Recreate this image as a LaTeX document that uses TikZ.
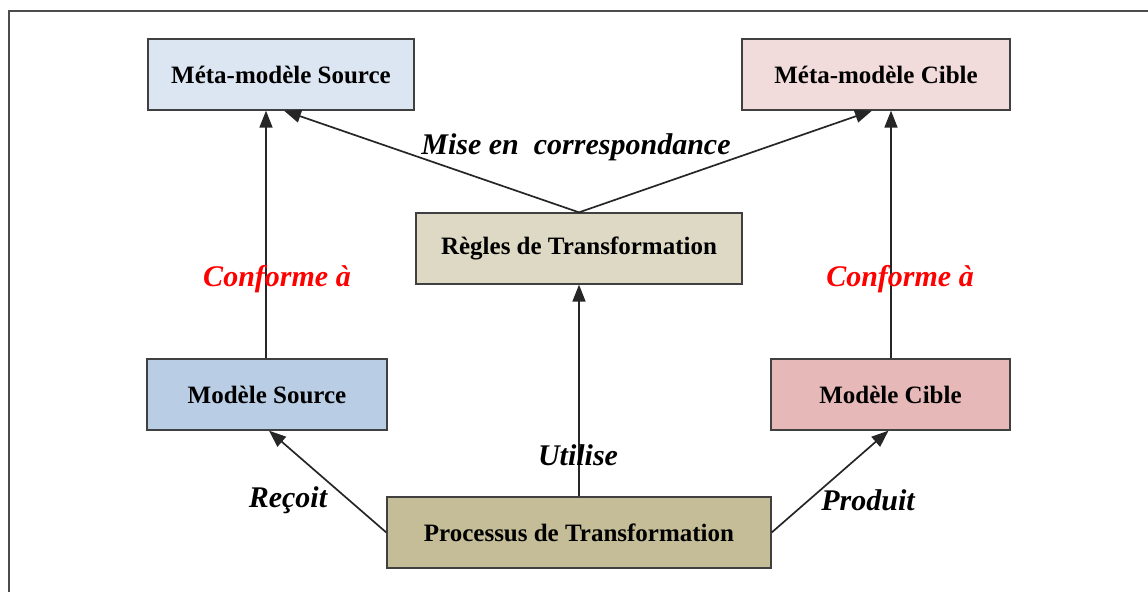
\documentclass[tikz,border=0pt]{standalone}
\usepackage{fontspec}
\setmainfont{Liberation Serif}
\usetikzlibrary{arrows.meta,calc}
\definecolor{msrcfill}{HTML}{DCE6F2}
\definecolor{mcibfill}{HTML}{F2DCDB}
\definecolor{reglfill}{HTML}{DDD9C4}
\definecolor{procfill}{HTML}{C4BD97}
\definecolor{modsfill}{HTML}{B9CDE5}
\definecolor{modcfill}{HTML}{E6B9B8}
\definecolor{edge}{HTML}{404040}
\tikzset{
  box/.style={draw=edge, line width=1.3pt, inner sep=0pt,
    minimum height=71pt, font=\fontsize{25}{30}\selectfont\bfseries},
  link/.style={line width=1.7pt, color=black!85},
  tip/.style={-{Triangle[length=17pt,width=13pt]}},
  lbl/.style={font=\fontsize{30}{36}\selectfont\bfseries\itshape, inner sep=0pt},
  frameline/.style={line width=1.4pt, color=black!70}
}
\begin{document}
\begin{tikzpicture}[x=1pt,y=-1pt]
\useasboundingbox (0,0) rectangle (1148,592);
% outer frame (top and left edges)
\draw[frameline] (9,592) -- (9,11) -- (1148,11);

% boxes
\node[box, fill=msrcfill, minimum width=266pt] (msrc) at (281,74.5) {Méta-modèle Source};
\node[box, fill=mcibfill, minimum width=268pt] (mcib) at (876,74.5) {Méta-modèle Cible};
\node[box, fill=reglfill, minimum width=326pt] (regl) at (579,248.5) {Règles de Transformation};
\node[box, fill=modsfill, minimum width=240pt] (mods) at (267,394.5) {Modèle Source};
\node[box, fill=modcfill, minimum width=239pt] (modc) at (890.5,394.5) {Modèle Cible};
\node[box, fill=procfill, minimum width=384pt] (proc) at (579,532.5) {Processus de Transformation};

% connectors
\draw[link,tip] ($(mods.north)+(-1,0)$) -- ($(msrc.south)+(-15,0)$);
\draw[link,tip] ($(modc.north)+(0.5,0)$) -- ($(mcib.south)+(15,0)$);
\draw[link,tip] (regl.north) -- ($(msrc.south)+(3,0)$);
\draw[link,tip] (regl.north) -- ($(mcib.south)+(-4,0)$);
\draw[link,tip] (proc.north) -- (regl.south);
\draw[link,tip] (proc.west) -- ($(mods.south)+(2,0)$);
\draw[link,tip] (proc.east) -- ($(modc.south)+(-2,0)$);

% labels
\node[lbl] (lmise) at (576,147) {Mise en\ \ correspondance};
\node[lbl, text=red] (lconfs) at (277,279) {Conforme à};
\node[lbl, text=red] (lconfc) at (900,279) {Conforme à};
\node[lbl] (lutil) at (578,455) {Utilise};
\node[lbl] (lrecoit) at (288,500) {Reçoit};
\node[lbl] (lprod) at (868,500) {Produit};
\end{tikzpicture}
\end{document}
